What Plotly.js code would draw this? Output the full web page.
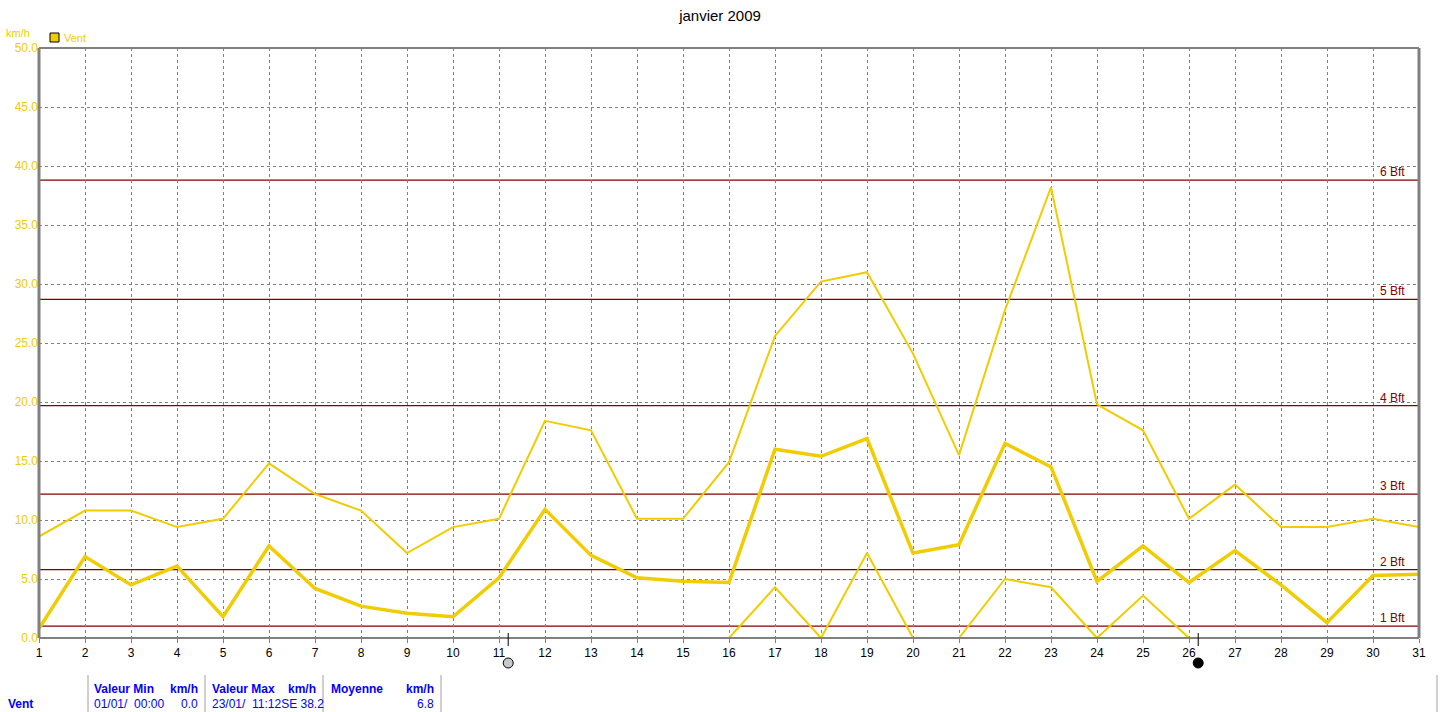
<!DOCTYPE html>
<html><head><meta charset="utf-8">
<script src="https://cdn.plot.ly/plotly-3.0.1.min.js"></script>
<style>html,body{margin:0;padding:0;background:#fff}#chart{width:1440px;height:712px}</style>
</head><body><div id="chart"></div>
<script>
const days = [1,2,3,4,5,6,7,8,9,10,11,12,13,14,15,16,17,18,19,20,21,22,23,24,25,26,27,28,29,30,31];
const ventMax = [8.6,10.8,10.8,9.4,10.1,14.8,12.2,10.8,7.2,9.4,10.1,18.4,17.6,10.1,10.1,14.9,25.6,30.2,31.0,24.1,15.5,27.8,38.2,19.8,17.6,10.1,13.0,9.4,9.4,10.1,9.4];
const ventMoy = [0.8,6.9,4.5,6.1,1.8,7.8,4.2,2.7,2.1,1.8,5.1,10.9,7.0,5.1,4.8,4.7,16.0,15.4,16.9,7.2,7.9,16.5,14.5,4.8,7.8,4.7,7.4,4.5,1.3,5.3,5.4];
const ventMin = [0,0,0,0,0,0,0,0,0,0,0,0,0,0,0,0,4.3,0,7.2,0,0,5.0,4.3,0,3.6,0,0,0,0,0,0];
const bftLevels = [1.0,5.8,12.2,19.7,28.7,38.8];
const bftLabels = ["1 Bft","2 Bft","3 Bft","4 Bft","5 Bft","6 Bft"];
const yTicks = [0,5,10,15,20,25,30,35,40,45,50];
const moonDays = [11.2,26.2];
const moonFills = ["#c8c8c8","#000000"];
const tableHeaders = ["Valeur Min","km/h","Valeur Max","km/h","Moyenne","km/h"];
const tableValues = ["01/01/  00:00","0.0","23/01/  11:12SE 38.2","6.8"];
const seriesName = "Vent";

const YEL = "#f0cc00", RED = "#800000", GRID = "#808080", BLUE = "#0000ff";
const FONT = "Liberation Sans, Arial, sans-serif";
const L = 39, R = 1419, T = 48, B = 638;
const px = x => (x - L) / (R - L);
const py = y => (B - y) / (B - T);

const traces = [
  {x: days, y: ventMax, mode: 'lines', line: {color: YEL, width: 2}, showlegend: false, hoverinfo: 'skip'},
  {x: days, y: ventMin, mode: 'lines', line: {color: YEL, width: 2}, showlegend: false, hoverinfo: 'skip'},
  {x: days, y: ventMoy, mode: 'lines', line: {color: YEL, width: 3.5}, showlegend: false, hoverinfo: 'skip'}
];

const shapes = [];
const annotations = [];
bftLevels.forEach((v, i) => {
  shapes.push({type: 'line', xref: 'paper', yref: 'y', x0: 0, x1: 1, y0: v, y1: v, line: {color: RED, width: 1.3}, layer: 'below'});
  annotations.push({xref: 'paper', yref: 'y', x: px(1407), y: v, xanchor: 'right', yanchor: 'bottom', yshift: -1,
    text: bftLabels[i], showarrow: false, font: {family: FONT, size: 12, color: RED}});
});
// frame
shapes.push({type: 'line', xref: 'paper', yref: 'paper', x0: 0, x1: 1, y0: 1, y1: 1, line: {color: GRID, width: 2}});
shapes.push({type: 'line', xref: 'paper', yref: 'paper', x0: 1, x1: 1, y0: 0, y1: 1, line: {color: GRID, width: 3}});
shapes.push({type: 'line', xref: 'paper', yref: 'paper', x0: 0, x1: 0, y0: 0, y1: 1, line: {color: GRID, width: 3}});
shapes.push({type: 'line', xref: 'paper', yref: 'paper', x0: 0, x1: 1, y0: 0, y1: 0, line: {color: GRID, width: 2}});
// moon markers
moonDays.forEach((d, i) => {
  shapes.push({type: 'line', xref: 'x', yref: 'paper', x0: d, x1: d, y0: py(633), y1: py(646), line: {color: '#000', width: 1}});
  shapes.push({type: 'circle', xref: 'x', yref: 'paper', xsizemode: 'pixel', ysizemode: 'pixel',
    xanchor: d, yanchor: py(663), x0: -5, x1: 5, y0: -5, y1: 5, fillcolor: moonFills[i], line: {color: '#000', width: 1}});
});
// table dividers
[88, 205, 323, 441, 1437].forEach(x => {
  shapes.push({type: 'line', xref: 'paper', yref: 'paper', x0: px(x), x1: px(x), y0: py(675), y1: py(712), line: {color: '#a0a0a0', width: 1}});
});
// legend
shapes.push({type: 'rect', xref: 'paper', yref: 'paper', x0: px(50), x1: px(59), y0: py(42), y1: py(33), fillcolor: YEL, line: {color: '#000', width: 1}});
annotations.push({xref: 'paper', yref: 'paper', x: px(62), y: py(38), xanchor: 'left', yanchor: 'middle', text: seriesName, showarrow: false, font: {family: FONT, size: 11, color: YEL}});
annotations.push({xref: 'paper', yref: 'paper', x: px(4), y: py(33), xanchor: 'left', yanchor: 'middle', text: 'km/h', showarrow: false, font: {family: FONT, size: 11, color: YEL}});
// table text
const hdr = (x, anchor, txt, bold) => annotations.push({xref: 'paper', yref: 'paper', x: px(x), y: py(689), xanchor: anchor, yanchor: 'middle',
  text: bold ? '<b>' + txt + '</b>' : txt, showarrow: false, font: {family: FONT, size: 12, color: BLUE}});
const row = (x, anchor, txt, bold) => annotations.push({xref: 'paper', yref: 'paper', x: px(x), y: py(704), xanchor: anchor, yanchor: 'middle',
  text: bold ? '<b>' + txt + '</b>' : txt, showarrow: false, font: {family: FONT, size: 12, color: BLUE}});
hdr(92, 'left', tableHeaders[0], true); hdr(200, 'right', tableHeaders[1], true);
hdr(210, 'left', tableHeaders[2], true); hdr(318, 'right', tableHeaders[3], true);
hdr(329, 'left', tableHeaders[4], true); hdr(436, 'right', tableHeaders[5], true);
row(6, 'left', seriesName, true);
row(92, 'left', tableValues[0].replace(/ /g, '&nbsp;'), false); row(200, 'right', tableValues[1], false);
row(210, 'left', tableValues[2].replace(/ /g, '&nbsp;'), false); row(436, 'right', tableValues[3], false);

const layout = {
  width: 1440, height: 712,
  margin: {l: L, r: 1440 - R, t: T, b: 712 - B, pad: 0},
  paper_bgcolor: '#fff', plot_bgcolor: '#fff',
  showlegend: false,
  title: {text: 'janvier 2009', x: 0.5, xanchor: 'center', y: 1 - 16/712, yanchor: 'middle', font: {family: FONT, size: 15, color: '#000'}},
  xaxis: {range: [1, 31], tickvals: days, ticktext: days.map(String), showgrid: true, gridcolor: GRID, griddash: '3px,3px', gridwidth: 1,
    zeroline: false, showline: false, ticks: 'outside', ticklen: 4, tickcolor: GRID, tickfont: {family: FONT, size: 12, color: '#000'}, fixedrange: true},
  yaxis: {range: [0, 50], tickvals: yTicks, ticktext: yTicks.map(v => v.toFixed(1)), showgrid: true, gridcolor: GRID, griddash: '3px,3px', gridwidth: 1,
    zeroline: false, showline: false, ticks: '', ticklen: 0, tickfont: {family: FONT, size: 12, color: YEL}, fixedrange: true},
  shapes: shapes,
  annotations: annotations
};
Plotly.newPlot('chart', traces, layout, {displayModeBar: false, staticPlot: true});
</script></body></html>
